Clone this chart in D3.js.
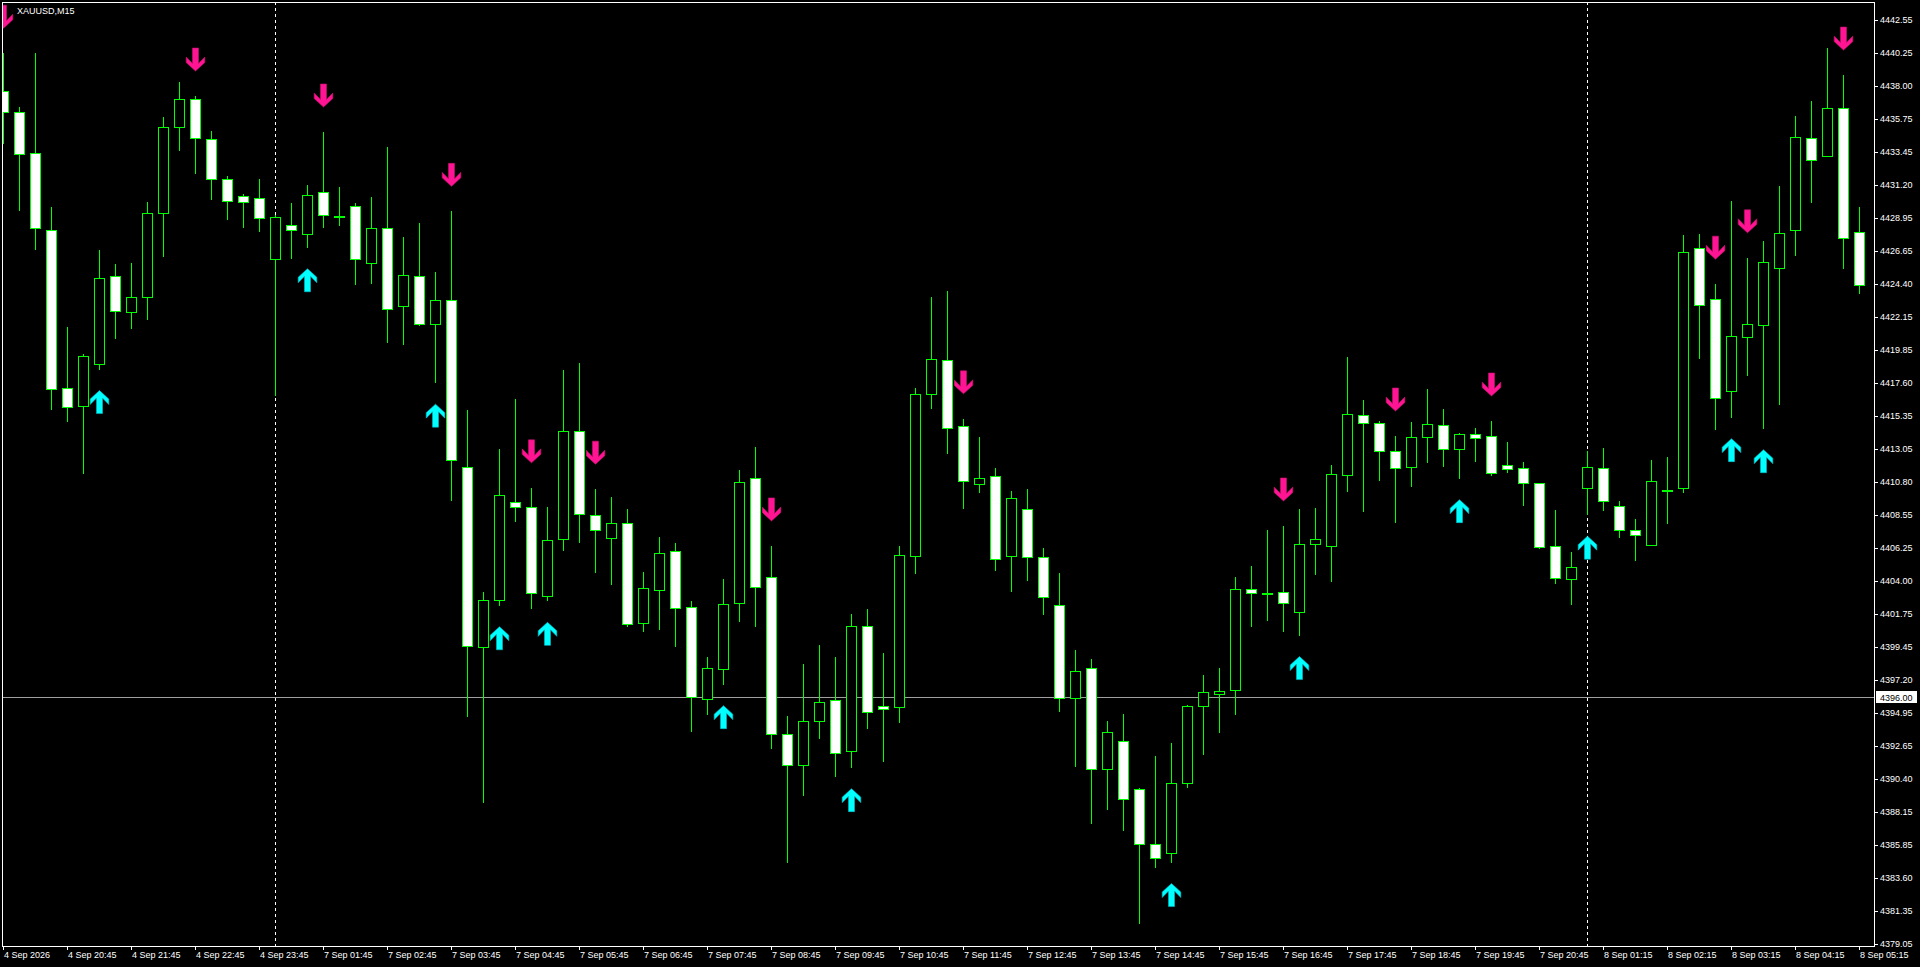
<!DOCTYPE html>
<html><head><meta charset="utf-8">
<script src="https://cdn.jsdelivr.net/npm/d3@7"></script>
<style>html,body{margin:0;padding:0;background:#000;overflow:hidden}svg{display:block}</style>
</head><body><svg id="c" width="1920" height="967"></svg>
<script>
const symbolLabel = "XAUUSD,M15";
const openP = [4437.65,4436.18,4433.36,4428.08,4417.22,4416.03,4418.87,4424.92,4422.44,4423.47,
4429.24,4435.20,4437.07,4434.33,4431.58,4430.41,4430.27,4426.08,4428.42,4427.80,
4430.69,4429.06,4429.77,4425.86,4428.25,4422.88,4424.94,4421.65,4423.29,4411.80,
4399.44,4402.66,4409.41,4409.05,4402.93,4406.87,4414.31,4408.51,4406.93,4407.95,
4401.08,4403.40,4406.03,4402.18,4395.87,4397.97,4402.50,4411.04,4404.24,4393.46,
4391.33,4394.35,4395.80,4392.29,4400.88,4395.38,4395.36,4405.69,4416.86,4419.17,
4414.61,4410.62,4411.17,4405.73,4408.91,4405.62,4402.32,4395.93,4397.99,4391.05,
4392.98,4389.69,4385.90,4385.29,4390.15,4395.38,4396.25,4396.48,4403.42,4403.19,
4403.21,4401.84,4406.51,4406.37,4411.25,4415.37,4414.82,4412.90,4411.80,4413.86,
4414.68,4413.04,4414.07,4413.93,4411.94,4411.73,4410.70,4406.37,4404.16,4410.41,
4411.73,4409.11,4407.46,4406.44,4410.25,4410.36,4426.85,4423.34,4417.01,4420.77,
4421.59,4425.47,4428.12,4434.39,4433.15,4436.45,4427.94];
const highP = [4440.24,4436.52,4440.23,4429.66,4421.44,4419.56,4426.73,4425.74,4425.83,4430.02,
4435.86,4438.26,4437.30,4434.90,4431.81,4430.59,4431.60,4429.10,4429.95,4431.19,
4434.83,4431.06,4429.95,4430.37,4433.80,4427.59,4428.58,4425.20,4429.38,4415.77,
4403.23,4413.08,4416.46,4410.39,4409.08,4418.46,4418.93,4410.30,4409.77,4408.93,
4404.61,4407.01,4406.60,4402.62,4398.77,4404.13,4411.62,4413.20,4406.40,4394.72,
4398.29,4399.60,4398.77,4401.73,4402.07,4399.05,4406.40,4417.25,4423.51,4423.91,
4415.13,4413.85,4411.72,4410.18,4410.30,4406.25,4404.55,4399.26,4398.65,4394.37,
4394.86,4389.80,4391.97,4392.87,4395.47,4397.55,4398.01,4404.26,4405.04,4407.50,
4407.77,4408.94,4409.01,4411.96,4419.38,4416.42,4414.98,4413.95,4414.91,4417.18,
4415.81,4414.16,4414.50,4414.98,4413.54,4412.17,4410.75,4408.87,4406.01,4412.92,
4413.13,4409.49,4408.22,4412.29,4412.52,4427.74,4427.81,4424.38,4430.10,4426.19,
4427.35,4431.11,4435.92,4436.96,4440.59,4438.74,4429.67];
const lowP = [4434.10,4429.50,4426.82,4415.78,4415.00,4411.43,4418.58,4420.70,4421.39,4422.01,
4426.34,4433.62,4432.04,4430.25,4428.88,4428.33,4428.05,4416.79,4426.20,4426.95,
4428.33,4428.46,4424.40,4424.46,4420.43,4420.28,4421.56,4417.65,4409.53,4394.72,
4388.84,4402.36,4408.09,4402.12,4402.66,4406.09,4406.66,4404.63,4403.80,4400.93,
4400.58,4400.72,4399.55,4393.71,4394.88,4396.94,4401.25,4400.92,4392.55,4384.69,
4389.32,4393.23,4390.62,4391.24,4393.92,4391.65,4394.33,4404.56,4415.85,4412.81,
4409.03,4410.12,4404.78,4403.28,4404.08,4401.69,4395.09,4391.25,4387.35,4388.36,
4386.86,4380.47,4384.37,4384.72,4389.86,4392.09,4393.59,4394.83,4400.88,4401.34,
4400.58,4400.31,4404.50,4404.02,4410.20,4408.82,4410.95,4408.07,4410.54,4412.19,
4411.91,4411.09,4412.26,4411.30,4411.46,4409.24,4406.25,4403.88,4402.41,4408.58,
4408.86,4407.03,4405.45,4406.44,4407.99,4410.13,4419.33,4414.45,4415.28,4418.16,
4414.52,4416.17,4426.41,4430.05,4433.15,4425.52,4423.80];
const closeP = [4436.18,4433.30,4428.21,4417.16,4415.97,4419.42,4424.78,4422.51,4423.47,4429.24,
4435.15,4437.07,4434.40,4431.58,4430.07,4430.00,4428.90,4428.97,4428.08,4430.48,
4429.11,4429.06,4426.13,4428.25,4422.64,4425.03,4421.65,4423.29,4412.30,4399.55,
4402.66,4409.89,4409.08,4403.14,4406.84,4414.31,4408.60,4407.50,4407.95,4401.02,
4403.49,4405.89,4402.12,4396.05,4397.99,4402.39,4410.77,4403.56,4393.46,4391.33,
4394.35,4395.66,4392.16,4400.88,4394.97,4395.18,4405.76,4416.84,4419.23,4414.49,
4410.88,4411.05,4405.50,4409.66,4405.67,4402.87,4395.93,4397.84,4391.05,4393.59,
4389.05,4385.93,4384.95,4390.15,4395.38,4396.34,4396.42,4403.42,4403.16,4403.19,
4402.46,4406.51,4406.90,4411.32,4415.44,4414.82,4412.90,4411.73,4413.86,4414.75,
4413.04,4414.07,4413.79,4411.39,4411.66,4410.70,4406.31,4404.18,4404.92,4411.80,
4409.47,4407.46,4407.13,4410.89,4410.25,4426.57,4422.93,4416.53,4420.80,4421.61,
4425.93,4427.86,4434.52,4432.94,4436.45,4427.58,4424.31];
const sellArrowIdx = [0,12,20,28,33,37,48,60,80,87,93,107,109,115];
const buyArrowIdx = [6,19,27,31,34,45,53,73,81,91,99,108,110];
const separatorIdx = [17,99];
const lineLevel = 4396.00;
const priceTicks = [4442.55,4440.25,4438.00,4435.75,4433.45,4431.20,4428.95,4426.65,4424.40,4422.15,
4419.85,4417.60,4415.35,4413.05,4410.80,4408.55,4406.25,4404.00,4401.75,4399.45,4397.20,4394.95,
4392.65,4390.40,4388.15,4385.85,4383.60,4381.35,4379.05];
const timeLabels = ["4 Sep 2026","4 Sep 20:45","4 Sep 21:45","4 Sep 22:45","4 Sep 23:45","7 Sep 01:45",
"7 Sep 02:45","7 Sep 03:45","7 Sep 04:45","7 Sep 05:45","7 Sep 06:45","7 Sep 07:45","7 Sep 08:45",
"7 Sep 09:45","7 Sep 10:45","7 Sep 11:45","7 Sep 12:45","7 Sep 13:45","7 Sep 14:45","7 Sep 15:45",
"7 Sep 16:45","7 Sep 17:45","7 Sep 18:45","7 Sep 19:45","7 Sep 20:45","8 Sep 01:15","8 Sep 02:15",
"8 Sep 03:15","8 Sep 04:15","8 Sep 05:15"];
const timeLabelStep = 4;

const svg = d3.select('#c');
const L = 2, T = 2, R = 1874, B = 946;
const FONT = "'Liberation Sans', Arial, sans-serif";
svg.append('rect').attr('width', 1920).attr('height', 967).attr('fill', '#000');
svg.append('defs').append('clipPath').attr('id', 'clip')
  .append('rect').attr('x', L + 1).attr('y', T + 1).attr('width', R - L - 1).attr('height', B - T - 1);

const x = d3.scaleLinear().domain([0, openP.length - 1]).range([3, 1859]);
const y = d3.scaleLinear().domain([4378.92, 4443.76]).range([B, T]);
const candles = openP.map((o, i) => ({ i, o, h: highP[i], l: lowP[i], c: closeP[i] }));
const px = i => Math.round(x(i));

const plot = svg.append('g').attr('clip-path', 'url(#clip)');

plot.selectAll('line.sep').data(separatorIdx).join('line').attr('class', 'sep')
  .attr('x1', d => px(d) + 0.5).attr('x2', d => px(d) + 0.5)
  .attr('y1', T).attr('y2', B)
  .attr('stroke', '#fff').attr('stroke-width', 1).attr('stroke-dasharray', '3,3');

plot.append('line').attr('x1', L).attr('x2', R)
  .attr('y1', Math.round(y(lineLevel)) + 0.5).attr('y2', Math.round(y(lineLevel)) + 0.5)
  .attr('stroke', '#a0a0a0').attr('stroke-width', 1);

plot.selectAll('line.wick').data(candles).join('line').attr('class', 'wick')
  .attr('x1', d => px(d.i) + 0.5).attr('x2', d => px(d.i) + 0.5)
  .attr('y1', d => Math.round(y(d.h))).attr('y2', d => Math.round(y(d.l)) + 1)
  .attr('stroke', '#00ff00').attr('stroke-width', 1);

plot.selectAll('rect.body').data(candles).join('rect').attr('class', 'body')
  .attr('x', d => px(d.i) - 4.5)
  .attr('y', d => Math.round(y(Math.max(d.o, d.c))) + 0.5)
  .attr('width', 10)
  .attr('height', d => Math.max(1, Math.round(y(Math.min(d.o, d.c))) - Math.round(y(Math.max(d.o, d.c)))))
  .attr('fill', d => d.c < d.o ? '#ffffff' : '#000000')
  .attr('stroke', '#00ff00').attr('stroke-width', 1);

const arrowPath = 'M-3,-23 L3,-23 L3,-7.5 L9.3,-14 L9.3,-8.5 L0,0 L-9.3,-8.5 L-9.3,-14 L-3,-7.5 Z';
plot.selectAll('path.sell').data(sellArrowIdx).join('path').attr('class', 'sell')
  .attr('d', arrowPath)
  .attr('transform', d => `translate(${px(d) + 0.5},${y(highP[d]) - 25})`)
  .attr('fill', '#ff1493').attr('stroke', '#c8106e').attr('stroke-width', 0.6);
plot.selectAll('path.buy').data(buyArrowIdx).join('path').attr('class', 'buy')
  .attr('d', arrowPath)
  .attr('transform', d => `translate(${px(d) + 0.5},${y(lowP[d]) + 22}) scale(1,-1)`)
  .attr('fill', '#00ffff').attr('stroke', '#00b8c8').attr('stroke-width', 0.6);

svg.append('rect').attr('x', L + 0.5).attr('y', T + 0.5).attr('width', R - L).attr('height', B - T)
  .attr('fill', 'none').attr('stroke', '#fff').attr('stroke-width', 1);

svg.append('text').attr('x', 17).attr('y', 14).attr('fill', '#fff')
  .attr('font-family', FONT).attr('font-size', 9).text(symbolLabel);

const yAxis = svg.append('g');
yAxis.selectAll('line').data(priceTicks).join('line')
  .attr('x1', R).attr('x2', R + 4)
  .attr('y1', d => Math.round(y(d)) + 0.5).attr('y2', d => Math.round(y(d)) + 0.5)
  .attr('stroke', '#fff');
yAxis.selectAll('text').data(priceTicks).join('text')
  .attr('x', R + 6).attr('y', d => y(d) + 3.3)
  .attr('fill', '#fff').attr('font-family', FONT).attr('font-size', 9)
  .text(d => d.toFixed(2));

const ly = Math.round(y(lineLevel));
svg.append('rect').attr('x', R + 2).attr('y', ly - 6).attr('width', 41).attr('height', 12).attr('fill', '#fff');
svg.append('text').attr('x', R + 6).attr('y', y(lineLevel) + 3.3).attr('fill', '#000')
  .attr('font-family', FONT).attr('font-size', 9).text(lineLevel.toFixed(2));

const xAxis = svg.append('g');
xAxis.selectAll('line').data(timeLabels).join('line')
  .attr('x1', (d, k) => px(k * timeLabelStep) + 0.5).attr('x2', (d, k) => px(k * timeLabelStep) + 0.5)
  .attr('y1', B).attr('y2', B + 4).attr('stroke', '#fff');
xAxis.selectAll('text').data(timeLabels).join('text')
  .attr('x', (d, k) => px(k * timeLabelStep) + 1).attr('y', 958)
  .attr('fill', '#fff').attr('font-family', FONT).attr('font-size', 9)
  .text(d => d);
</script></body></html>
